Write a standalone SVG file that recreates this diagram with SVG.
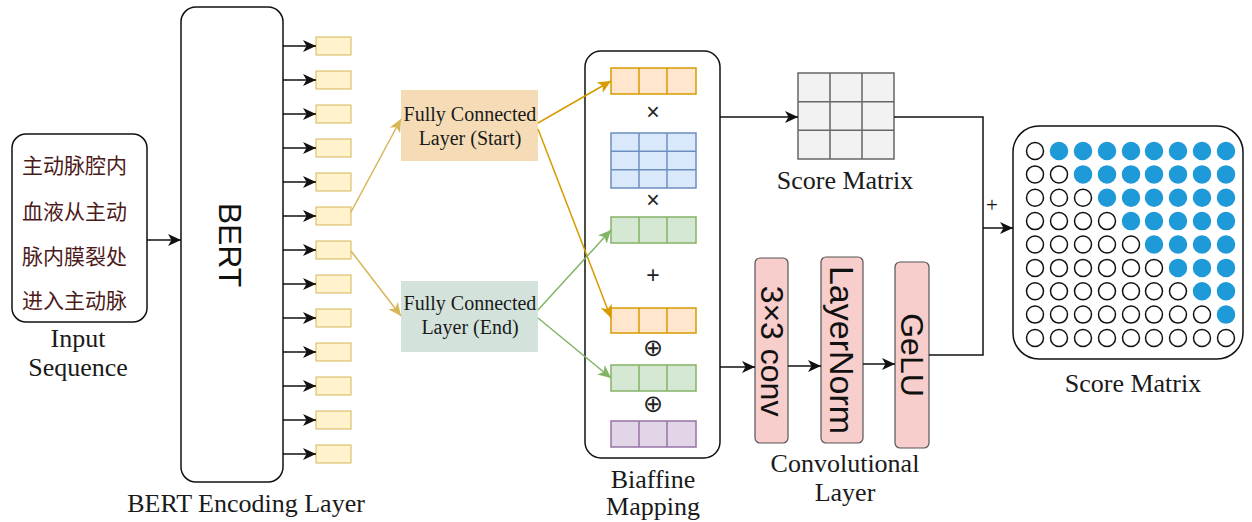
<svg xmlns="http://www.w3.org/2000/svg" width="1252" height="522" viewBox="0 0 1252 522">
<style>
.lbl{font-family:"Liberation Serif","Times New Roman",serif;font-size:26px;fill:#1a1a1a;text-anchor:middle}
.fc{font-family:"Liberation Serif","Times New Roman",serif;font-size:20px;fill:#1a1a1a;text-anchor:middle}
.cn{font-family:"Noto Sans CJK SC","Noto Sans",sans-serif;font-size:21px;fill:#4d1a1a}
.rot{font-family:"Liberation Sans",Arial,sans-serif;font-size:32px;fill:#111;text-anchor:middle;dominant-baseline:central}
.op{font-family:"Liberation Sans",Arial,sans-serif;font-size:23px;fill:#222;text-anchor:middle;dominant-baseline:central}
.box{fill:#fff;stroke:#111;stroke-width:1.5}
.tok{fill:#fff2cc;stroke:#d6b656;stroke-width:1}
.blk{stroke:#111;stroke-width:1.5;fill:none}
.yel{stroke:#d6b656;stroke-width:1.5;fill:none}
.org{stroke:#d79b00;stroke-width:1.5;fill:none}
.grn{stroke:#82b366;stroke-width:1.5;fill:none}
.ov{fill:#ffe6cc;stroke:#d79b00;stroke-width:1.5}
.gv{fill:#d5e8d4;stroke:#82b366;stroke-width:1.5}
.bv{fill:#dae8fc;stroke:#6c8ebf;stroke-width:1.5}
.pv{fill:#e1d5e7;stroke:#9673a6;stroke-width:1.5}
.red{fill:#f8cecc;stroke:#555;stroke-width:1.2}
.sm{fill:#f2f2f2;stroke:#666;stroke-width:1.5}
.ce{fill:#fff;stroke:#111;stroke-width:1.5}
.cf{fill:#1f9ad8;stroke:#1f9ad8;stroke-width:1.5}
</style>
<defs>
<marker id="aB" markerUnits="userSpaceOnUse" markerWidth="16" markerHeight="14" refX="13" refY="6" orient="auto"><path d="M0,0 L13,6 L0,12 L3.5,6 Z" fill="#111"/></marker>
<marker id="aY" markerUnits="userSpaceOnUse" markerWidth="16" markerHeight="14" refX="13" refY="6" orient="auto"><path d="M0,0 L13,6 L0,12 L3.5,6 Z" fill="#d6b656"/></marker>
<marker id="aO" markerUnits="userSpaceOnUse" markerWidth="16" markerHeight="14" refX="13" refY="6" orient="auto"><path d="M0,0 L13,6 L0,12 L3.5,6 Z" fill="#d79b00"/></marker>
<marker id="aG" markerUnits="userSpaceOnUse" markerWidth="16" markerHeight="14" refX="13" refY="6" orient="auto"><path d="M0,0 L13,6 L0,12 L3.5,6 Z" fill="#82b366"/></marker>
</defs>
<rect width="1252" height="522" fill="#fff"/>

<g id="input">
<rect class="box" x="12" y="134" width="135" height="188" rx="14"/>
<text class="cn" x="22" y="173">主动脉腔内</text>
<text class="cn" x="22" y="219">血液从主动</text>
<text class="cn" x="22" y="264">脉内膜裂处</text>
<text class="cn" x="22" y="308">进入主动脉</text>
<text class="lbl" x="78" y="347">Input</text>
<text class="lbl" x="78" y="376">Sequence</text>
</g>

<g id="bert">
<rect class="box" x="181" y="7" width="102" height="475" rx="15"/>
<text class="rot" transform="translate(230,245) rotate(90)">BERT</text>
<text class="lbl" x="246" y="512">BERT Encoding Layer</text>
</g>

<g id="tokens">
<rect class="tok" x="316" y="37" width="35" height="18"/>
<rect class="tok" x="316" y="71" width="35" height="18"/>
<rect class="tok" x="316" y="105" width="35" height="18"/>
<rect class="tok" x="316" y="139" width="35" height="18"/>
<rect class="tok" x="316" y="173" width="35" height="18"/>
<rect class="tok" x="316" y="207" width="35" height="18"/>
<rect class="tok" x="316" y="241" width="35" height="18"/>
<rect class="tok" x="316" y="275" width="35" height="18"/>
<rect class="tok" x="316" y="309" width="35" height="18"/>
<rect class="tok" x="316" y="343" width="35" height="18"/>
<rect class="tok" x="316" y="377" width="35" height="18"/>
<rect class="tok" x="316" y="411" width="35" height="18"/>
<rect class="tok" x="316" y="445" width="35" height="18"/>
</g>

<g id="fc-start">
<rect x="401" y="90" width="137" height="71" fill="#f5dcb6"/>
<text class="fc" x="470" y="121">Fully Connected</text>
<text class="fc" x="470" y="145">Layer (Start)</text>
</g>
<g id="fc-end">
<rect x="401" y="281" width="137" height="71" fill="#d3e3dc"/>
<text class="fc" x="470" y="310">Fully Connected</text>
<text class="fc" x="470" y="334">Layer (End)</text>
</g>

<g id="biaffine">
<rect class="box" x="585" y="51" width="135" height="407" rx="16"/>
<rect class="ov" x="611" y="68" width="85" height="26"/>
<path class="org" d="M639,68V94M667,68V94"/>
<text class="op" x="653" y="112">×</text>
<rect class="bv" x="611" y="133" width="85" height="55"/>
<path d="M639,133V188M667,133V188M611,151.3H696M611,169.7H696" stroke="#6c8ebf" stroke-width="1.5" fill="none"/>
<text class="op" x="653" y="200">×</text>
<rect class="gv" x="611" y="217" width="85" height="26"/>
<path class="grn" d="M639,217V243M667,217V243"/>
<text class="op" x="653" y="275">+</text>
<rect class="ov" x="611" y="308" width="85" height="25"/>
<path class="org" d="M639,308V333M667,308V333"/>
<text class="op" x="653" y="348" style="font-family:'DejaVu Sans',sans-serif;font-size:24px">⊕</text>
<rect class="gv" x="611" y="365" width="85" height="26"/>
<path class="grn" d="M639,365V391M667,365V391"/>
<text class="op" x="653" y="404" style="font-family:'DejaVu Sans',sans-serif;font-size:24px">⊕</text>
<rect class="pv" x="611" y="421" width="85" height="26"/>
<path d="M639,421V447M667,421V447" stroke="#9673a6" stroke-width="1.5"/>
<text class="lbl" x="653" y="488">Biaffine</text>
<text class="lbl" x="653" y="515">Mapping</text>
</g>

<g id="score-top">
<rect class="sm" x="798" y="73" width="96" height="86"/>
<path d="M830,73V159M862,73V159M798,101.7H894M798,130.3H894" stroke="#666" stroke-width="1.5"/>
<text class="lbl" x="845" y="189">Score Matrix</text>
</g>

<g id="conv">
<rect class="red" x="755" y="258" width="33" height="185" rx="5"/>
<text class="rot" transform="translate(771.5,351) rotate(90)">3×3 conv</text>
</g>
<g id="layernorm">
<rect class="red" x="821" y="257" width="42" height="186" rx="5"/>
<text class="rot" transform="translate(842,350) rotate(90)" style="font-size:34px">LayerNorm</text>
</g>
<g id="gelu">
<rect class="red" x="895" y="262" width="34" height="186" rx="5"/>
<text class="rot" transform="translate(912,355) rotate(90)">GeLU</text>
<text class="lbl" x="845" y="472">Convolutional</text>
<text class="lbl" x="845" y="501">Layer</text>
</g>

<g id="score-final">
<rect class="box" x="1013" y="126" width="230" height="233" rx="26"/>
<g>
<circle class="ce" cx="1035" cy="151" r="8.5"/><circle class="cf" cx="1059" cy="151" r="8.5"/><circle class="cf" cx="1083" cy="151" r="8.5"/><circle class="cf" cx="1107" cy="151" r="8.5"/><circle class="cf" cx="1131" cy="151" r="8.5"/><circle class="cf" cx="1154" cy="151" r="8.5"/><circle class="cf" cx="1178" cy="151" r="8.5"/><circle class="cf" cx="1202" cy="151" r="8.5"/><circle class="cf" cx="1226" cy="151" r="8.5"/>
<circle class="ce" cx="1035" cy="174.4" r="8.5"/><circle class="ce" cx="1059" cy="174.4" r="8.5"/><circle class="cf" cx="1083" cy="174.4" r="8.5"/><circle class="cf" cx="1107" cy="174.4" r="8.5"/><circle class="cf" cx="1131" cy="174.4" r="8.5"/><circle class="cf" cx="1154" cy="174.4" r="8.5"/><circle class="cf" cx="1178" cy="174.4" r="8.5"/><circle class="cf" cx="1202" cy="174.4" r="8.5"/><circle class="cf" cx="1226" cy="174.4" r="8.5"/>
<circle class="ce" cx="1035" cy="197.8" r="8.5"/><circle class="ce" cx="1059" cy="197.8" r="8.5"/><circle class="ce" cx="1083" cy="197.8" r="8.5"/><circle class="cf" cx="1107" cy="197.8" r="8.5"/><circle class="cf" cx="1131" cy="197.8" r="8.5"/><circle class="cf" cx="1154" cy="197.8" r="8.5"/><circle class="cf" cx="1178" cy="197.8" r="8.5"/><circle class="cf" cx="1202" cy="197.8" r="8.5"/><circle class="cf" cx="1226" cy="197.8" r="8.5"/>
<circle class="ce" cx="1035" cy="221.1" r="8.5"/><circle class="ce" cx="1059" cy="221.1" r="8.5"/><circle class="ce" cx="1083" cy="221.1" r="8.5"/><circle class="ce" cx="1107" cy="221.1" r="8.5"/><circle class="cf" cx="1131" cy="221.1" r="8.5"/><circle class="cf" cx="1154" cy="221.1" r="8.5"/><circle class="cf" cx="1178" cy="221.1" r="8.5"/><circle class="cf" cx="1202" cy="221.1" r="8.5"/><circle class="cf" cx="1226" cy="221.1" r="8.5"/>
<circle class="ce" cx="1035" cy="244.5" r="8.5"/><circle class="ce" cx="1059" cy="244.5" r="8.5"/><circle class="ce" cx="1083" cy="244.5" r="8.5"/><circle class="ce" cx="1107" cy="244.5" r="8.5"/><circle class="ce" cx="1131" cy="244.5" r="8.5"/><circle class="cf" cx="1154" cy="244.5" r="8.5"/><circle class="cf" cx="1178" cy="244.5" r="8.5"/><circle class="cf" cx="1202" cy="244.5" r="8.5"/><circle class="cf" cx="1226" cy="244.5" r="8.5"/>
<circle class="ce" cx="1035" cy="267.9" r="8.5"/><circle class="ce" cx="1059" cy="267.9" r="8.5"/><circle class="ce" cx="1083" cy="267.9" r="8.5"/><circle class="ce" cx="1107" cy="267.9" r="8.5"/><circle class="ce" cx="1131" cy="267.9" r="8.5"/><circle class="ce" cx="1154" cy="267.9" r="8.5"/><circle class="cf" cx="1178" cy="267.9" r="8.5"/><circle class="cf" cx="1202" cy="267.9" r="8.5"/><circle class="cf" cx="1226" cy="267.9" r="8.5"/>
<circle class="ce" cx="1035" cy="291.3" r="8.5"/><circle class="ce" cx="1059" cy="291.3" r="8.5"/><circle class="ce" cx="1083" cy="291.3" r="8.5"/><circle class="ce" cx="1107" cy="291.3" r="8.5"/><circle class="ce" cx="1131" cy="291.3" r="8.5"/><circle class="ce" cx="1154" cy="291.3" r="8.5"/><circle class="ce" cx="1178" cy="291.3" r="8.5"/><circle class="cf" cx="1202" cy="291.3" r="8.5"/><circle class="cf" cx="1226" cy="291.3" r="8.5"/>
<circle class="ce" cx="1035" cy="314.6" r="8.5"/><circle class="ce" cx="1059" cy="314.6" r="8.5"/><circle class="ce" cx="1083" cy="314.6" r="8.5"/><circle class="ce" cx="1107" cy="314.6" r="8.5"/><circle class="ce" cx="1131" cy="314.6" r="8.5"/><circle class="ce" cx="1154" cy="314.6" r="8.5"/><circle class="ce" cx="1178" cy="314.6" r="8.5"/><circle class="ce" cx="1202" cy="314.6" r="8.5"/><circle class="cf" cx="1226" cy="314.6" r="8.5"/>
<circle class="ce" cx="1035" cy="338" r="8.5"/><circle class="ce" cx="1059" cy="338" r="8.5"/><circle class="ce" cx="1083" cy="338" r="8.5"/><circle class="ce" cx="1107" cy="338" r="8.5"/><circle class="ce" cx="1131" cy="338" r="8.5"/><circle class="ce" cx="1154" cy="338" r="8.5"/><circle class="ce" cx="1178" cy="338" r="8.5"/><circle class="ce" cx="1202" cy="338" r="8.5"/><circle class="ce" cx="1226" cy="338" r="8.5"/>
</g>
<text class="lbl" x="1133" y="392">Score Matrix</text>
</g>

<g id="connectors">
<line class="blk" x1="147" y1="240" x2="181" y2="240" marker-end="url(#aB)"/>
<line class="blk" x1="283" y1="46" x2="316" y2="46" marker-end="url(#aB)"/>
<line class="blk" x1="283" y1="80" x2="316" y2="80" marker-end="url(#aB)"/>
<line class="blk" x1="283" y1="114" x2="316" y2="114" marker-end="url(#aB)"/>
<line class="blk" x1="283" y1="148" x2="316" y2="148" marker-end="url(#aB)"/>
<line class="blk" x1="283" y1="182" x2="316" y2="182" marker-end="url(#aB)"/>
<line class="blk" x1="283" y1="216" x2="316" y2="216" marker-end="url(#aB)"/>
<line class="blk" x1="283" y1="250" x2="316" y2="250" marker-end="url(#aB)"/>
<line class="blk" x1="283" y1="284" x2="316" y2="284" marker-end="url(#aB)"/>
<line class="blk" x1="283" y1="318" x2="316" y2="318" marker-end="url(#aB)"/>
<line class="blk" x1="283" y1="352" x2="316" y2="352" marker-end="url(#aB)"/>
<line class="blk" x1="283" y1="386" x2="316" y2="386" marker-end="url(#aB)"/>
<line class="blk" x1="283" y1="420" x2="316" y2="420" marker-end="url(#aB)"/>
<line class="blk" x1="283" y1="454" x2="316" y2="454" marker-end="url(#aB)"/>
<line class="yel" x1="351" y1="212" x2="401" y2="119" marker-end="url(#aY)"/>
<line class="yel" x1="351" y1="251" x2="401" y2="316" marker-end="url(#aY)"/>
<line class="org" x1="538" y1="123" x2="611" y2="81" marker-end="url(#aO)"/>
<line class="org" x1="538" y1="129" x2="611" y2="318" marker-end="url(#aO)"/>
<line class="grn" x1="538" y1="310" x2="611" y2="230" marker-end="url(#aG)"/>
<line class="grn" x1="538" y1="318" x2="611" y2="378" marker-end="url(#aG)"/>
<line class="blk" x1="720" y1="117" x2="798" y2="117" marker-end="url(#aB)"/>
<path class="blk" d="M894,117H983V355H929"/>
<line class="blk" x1="983" y1="228" x2="1013" y2="228" marker-end="url(#aB)"/>
<text x="992" y="212" style="font-family:'Liberation Serif',serif;font-size:21px;fill:#111;text-anchor:middle">+</text>
<line class="blk" x1="720" y1="367" x2="755" y2="367" marker-end="url(#aB)"/>
<line class="blk" x1="788" y1="366" x2="821" y2="366" marker-end="url(#aB)"/>
<line class="blk" x1="863" y1="364" x2="895" y2="364" marker-end="url(#aB)"/>
</g>
</svg>
